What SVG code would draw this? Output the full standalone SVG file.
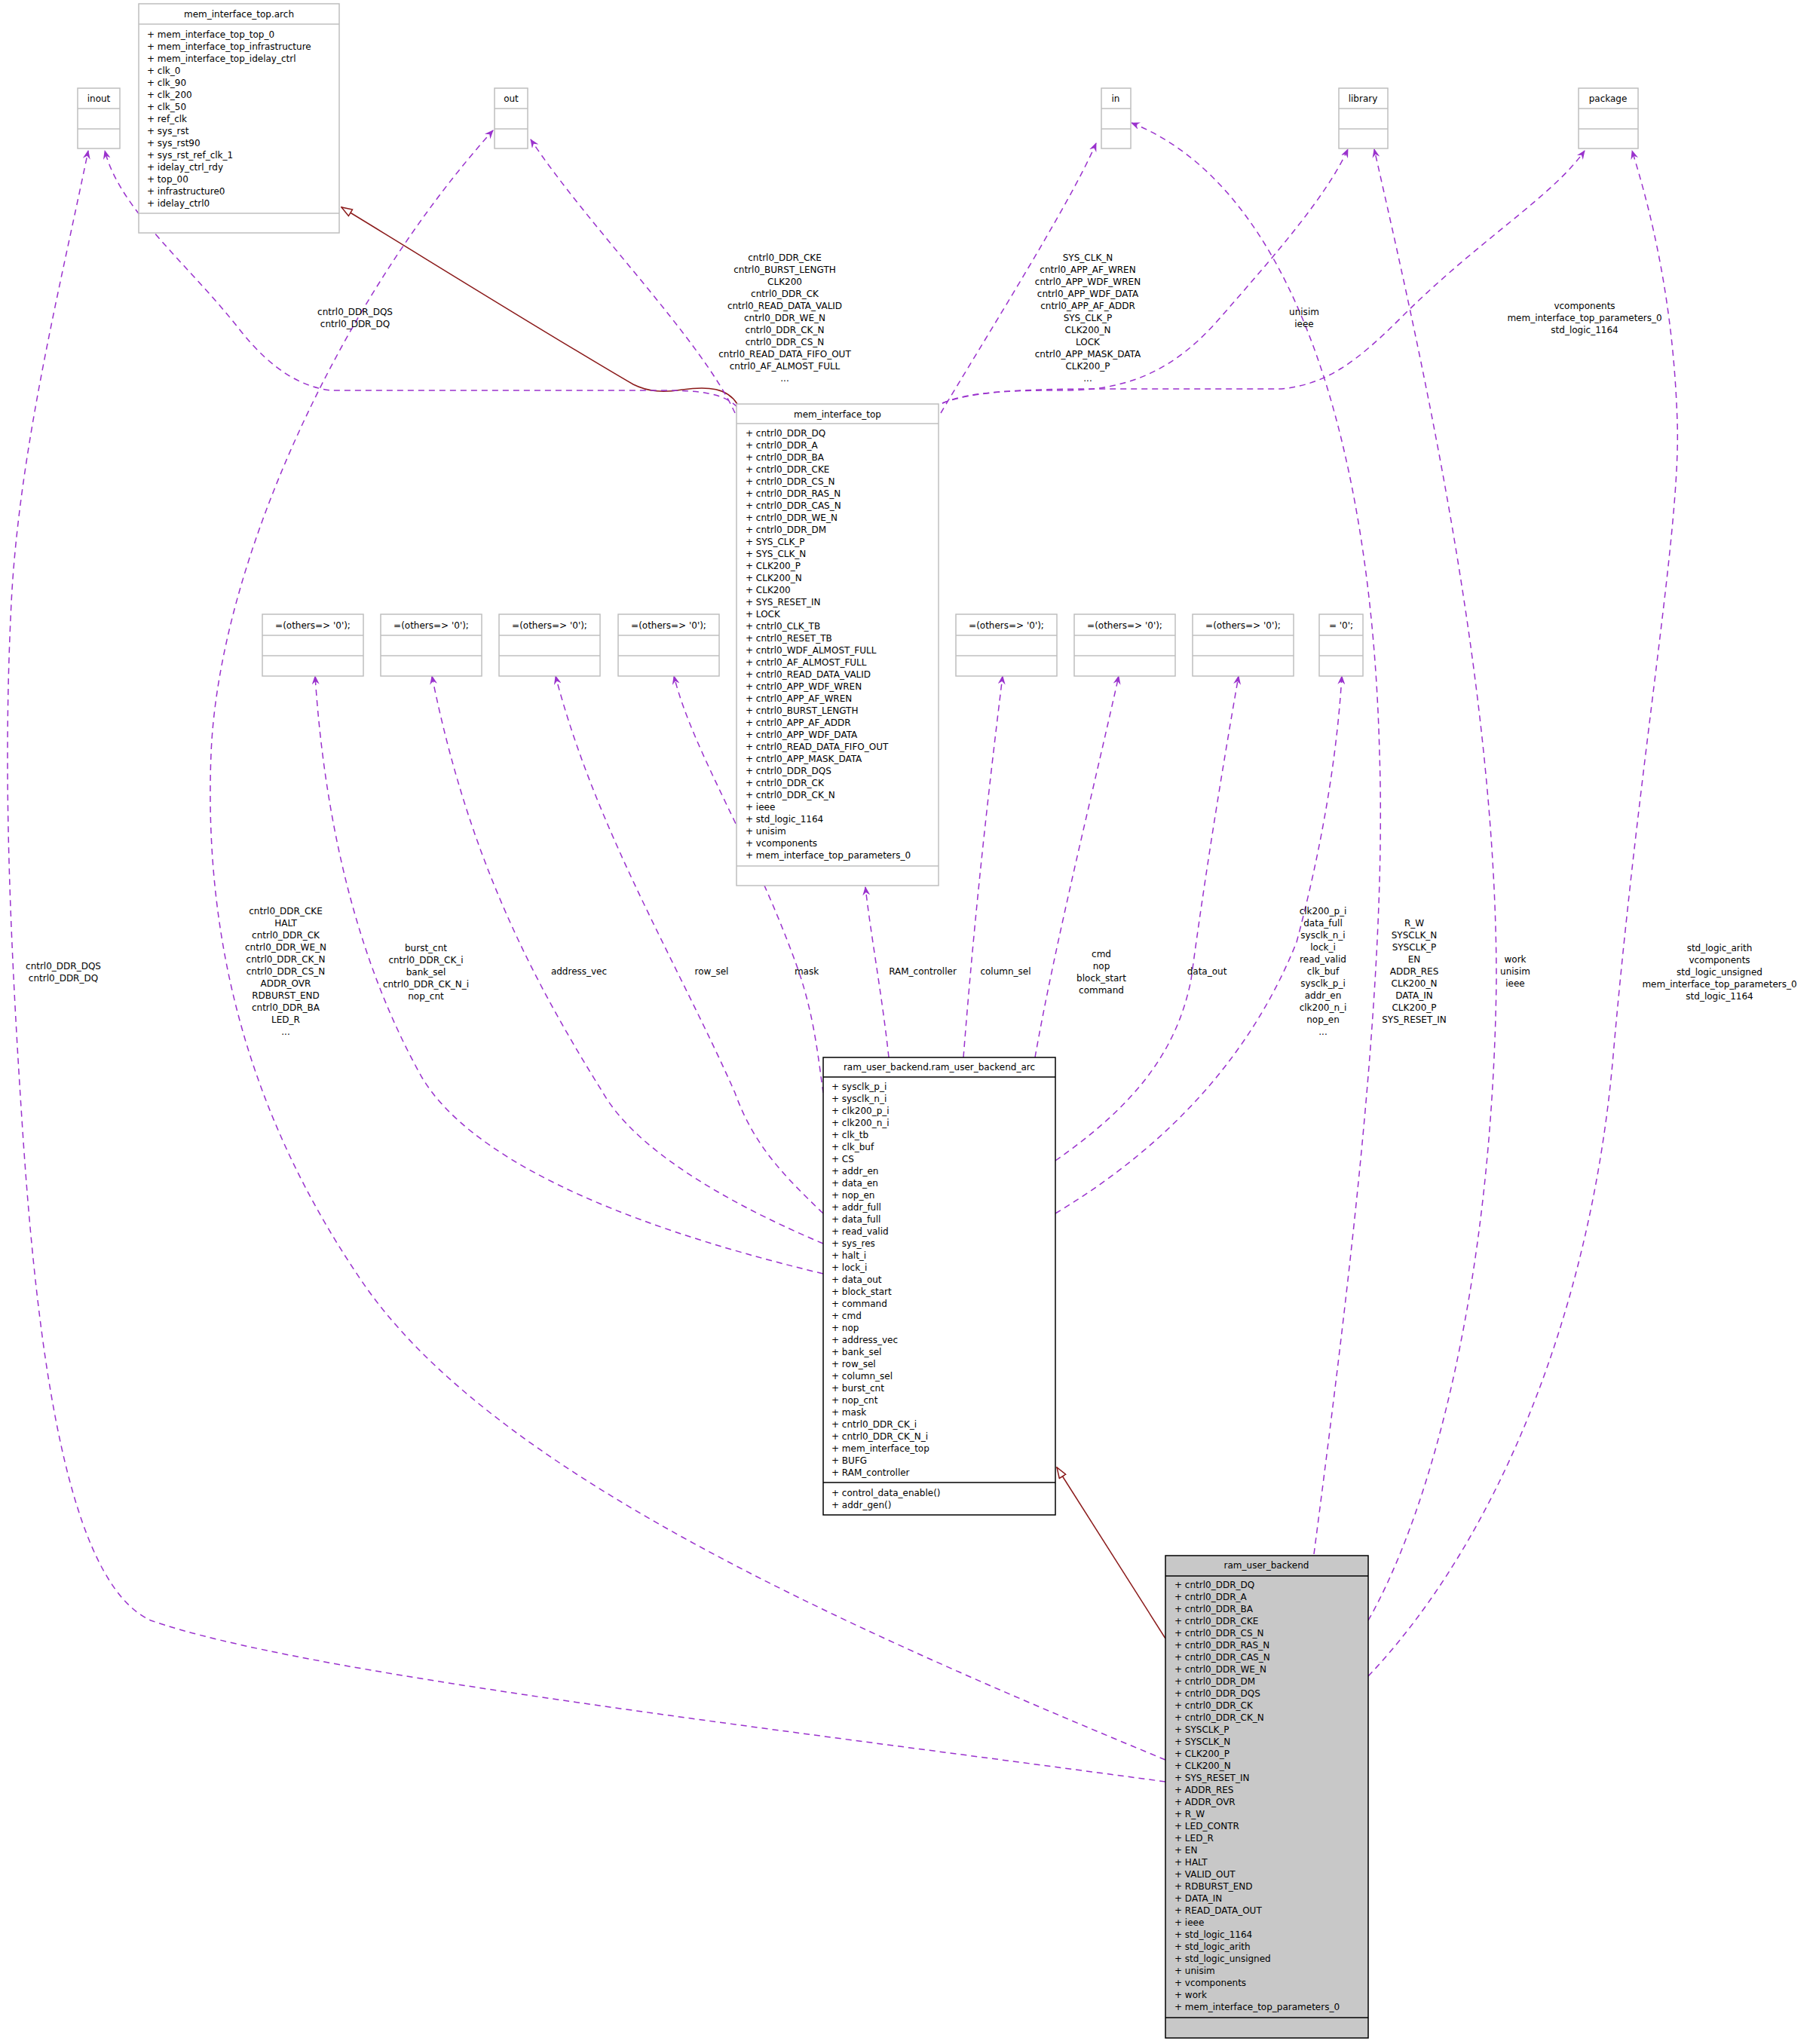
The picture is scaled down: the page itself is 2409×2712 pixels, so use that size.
<svg xmlns="http://www.w3.org/2000/svg" width="2409" height="2712" viewBox="0 0 2409 2712">
<style>
text{font-family:"DejaVu Sans","Liberation Sans",sans-serif;font-size:12px;fill:#000}
.c{text-anchor:middle}
.lb{fill:#fff;stroke:#bfbfbf;stroke-width:1.5}
.db{fill:#fff;stroke:#000;stroke-width:1.5}
.gb{fill:#c8c8c8;stroke:#000;stroke-width:1.5}
.ll{stroke:#bfbfbf;stroke-width:1.5}
.dl{stroke:#000;stroke-width:1.5}
.u{fill:none;stroke:#9a32cd;stroke-width:1.5;stroke-dasharray:8,6;marker-end:url(#v)}
.i{fill:none;stroke:#8b1a1a;stroke-width:1.5;marker-end:url(#t)}
</style>
<defs>
<marker id="v" viewBox="0 0 12 10" refX="11" refY="5" markerWidth="12" markerHeight="10" markerUnits="userSpaceOnUse" orient="auto"><path d="M0,0 L12,5 L0,10 L4,5 z" fill="#9a32cd"/></marker>
<marker id="t" viewBox="0 0 16 12" refX="15" refY="6" markerWidth="16" markerHeight="12" markerUnits="userSpaceOnUse" orient="auto"><path d="M1,1 L15,6 L1,11 z" fill="#fff" stroke="#8b1a1a" stroke-width="1.5"/></marker>
</defs>
<rect width="2409" height="2712" fill="#fff"/>

<g id="edges">
<path class="i" d="M978,536 C965,515 940,512 905,517 C880,521 860,520 840,510 C720,440 560,340 453,275"/>
<path class="u" d="M978,540 C960,522 930,518 880,518 L440,518 C400,514 360,490 320,440 C250,350 160,280 139,200"/>
<path class="u" d="M975,548 C930,450 780,300 704,185"/>
<path class="u" d="M1248,548 C1300,460 1420,270 1454,190"/>
<path class="u" d="M1250,535 C1290,518 1350,518 1420,518 C1500,516 1560,490 1620,420 C1690,340 1760,260 1788,198"/>
<path class="u" d="M1250,535 C1300,515 1400,516 1500,516 L1700,516 C1760,510 1800,480 1860,420 C1960,320 2060,260 2102,200"/>
<path class="u" d="M1743,2062 C1790,1700 1840,1300 1830,1000 C1820,600 1720,250 1501,163"/>
<path class="u" d="M1815,2150 C1900,2000 1980,1700 1985,1300 C1985,900 1880,450 1823,198"/>
<path class="u" d="M1815,2224 C1980,2050 2110,1750 2140,1400 C2175,1000 2230,700 2225,560 C2220,400 2190,280 2165,200"/>
<path class="u" d="M1546,2364 C1000,2290 400,2220 200,2150 C90,2100 50,1800 30,1500 C10,1200 5,1000 15,800 C25,600 80,380 117,200"/>
<path class="u" d="M1546,2335 C1100,2150 650,1950 480,1700 C330,1480 270,1250 280,1000 C290,750 450,400 654,173"/>
<path class="u" d="M1092,1690 C800,1620 620,1530 560,1430 C470,1270 430,1080 418,897"/>
<path class="u" d="M1092,1650 C950,1590 840,1520 800,1450 C700,1290 620,1130 573,897"/>
<path class="u" d="M1092,1610 C1040,1560 1000,1520 975,1450 C900,1280 790,1100 737,897"/>
<path class="u" d="M1092,1450 C1085,1400 1080,1350 1060,1290 C1000,1120 920,1000 894,897"/>
<path class="u" d="M1179,1403 C1170,1320 1155,1240 1148,1177"/>
<path class="u" d="M1278,1403 C1290,1250 1305,1100 1330,897"/>
<path class="u" d="M1373,1403 C1400,1250 1450,1050 1484,897"/>
<path class="u" d="M1400,1540 C1500,1470 1560,1400 1580,1300 C1600,1150 1625,1000 1643,897"/>
<path class="u" d="M1400,1610 C1550,1520 1660,1400 1720,1250 C1760,1100 1775,980 1780,897"/>
<path class="i" d="M1546,2174 L1402,1947"/>

<text class="c" x="471" y="418">cntrl0_DDR_DQS</text>
<text class="c" x="471" y="434">cntrl0_DDR_DQ</text>
<text class="c" x="1041" y="346"><tspan x="1041">cntrl0_DDR_CKE</tspan><tspan x="1041" dy="16">cntrl0_BURST_LENGTH</tspan><tspan x="1041" dy="16">CLK200</tspan><tspan x="1041" dy="16">cntrl0_DDR_CK</tspan><tspan x="1041" dy="16">cntrl0_READ_DATA_VALID</tspan><tspan x="1041" dy="16">cntrl0_DDR_WE_N</tspan><tspan x="1041" dy="16">cntrl0_DDR_CK_N</tspan><tspan x="1041" dy="16">cntrl0_DDR_CS_N</tspan><tspan x="1041" dy="16">cntrl0_READ_DATA_FIFO_OUT</tspan><tspan x="1041" dy="16">cntrl0_AF_ALMOST_FULL</tspan><tspan x="1041" dy="16">...</tspan></text>
<text class="c" x="1443" y="346"><tspan x="1443">SYS_CLK_N</tspan><tspan x="1443" dy="16">cntrl0_APP_AF_WREN</tspan><tspan x="1443" dy="16">cntrl0_APP_WDF_WREN</tspan><tspan x="1443" dy="16">cntrl0_APP_WDF_DATA</tspan><tspan x="1443" dy="16">cntrl0_APP_AF_ADDR</tspan><tspan x="1443" dy="16">SYS_CLK_P</tspan><tspan x="1443" dy="16">CLK200_N</tspan><tspan x="1443" dy="16">LOCK</tspan><tspan x="1443" dy="16">cntrl0_APP_MASK_DATA</tspan><tspan x="1443" dy="16">CLK200_P</tspan><tspan x="1443" dy="16">...</tspan></text>
<text class="c" x="1730" y="418"><tspan x="1730">unisim</tspan><tspan x="1730" dy="16">ieee</tspan></text>
<text class="c" x="2102" y="410"><tspan x="2102">vcomponents</tspan><tspan x="2102" dy="16">mem_interface_top_parameters_0</tspan><tspan x="2102" dy="16">std_logic_1164</tspan></text>
<text class="c" x="84" y="1286"><tspan x="84">cntrl0_DDR_DQS</tspan><tspan x="84" dy="16">cntrl0_DDR_DQ</tspan></text>
<text class="c" x="379" y="1213"><tspan x="379">cntrl0_DDR_CKE</tspan><tspan x="379" dy="16">HALT</tspan><tspan x="379" dy="16">cntrl0_DDR_CK</tspan><tspan x="379" dy="16">cntrl0_DDR_WE_N</tspan><tspan x="379" dy="16">cntrl0_DDR_CK_N</tspan><tspan x="379" dy="16">cntrl0_DDR_CS_N</tspan><tspan x="379" dy="16">ADDR_OVR</tspan><tspan x="379" dy="16">RDBURST_END</tspan><tspan x="379" dy="16">cntrl0_DDR_BA</tspan><tspan x="379" dy="16">LED_R</tspan><tspan x="379" dy="16">...</tspan></text>
<text class="c" x="565" y="1262"><tspan x="565">burst_cnt</tspan><tspan x="565" dy="16">cntrl0_DDR_CK_i</tspan><tspan x="565" dy="16">bank_sel</tspan><tspan x="565" dy="16">cntrl0_DDR_CK_N_i</tspan><tspan x="565" dy="16">nop_cnt</tspan></text>
<text class="c" x="768" y="1293">address_vec</text>
<text class="c" x="944" y="1293">row_sel</text>
<text class="c" x="1070" y="1293">mask</text>
<text class="c" x="1224" y="1293">RAM_controller</text>
<text class="c" x="1334" y="1293">column_sel</text>
<text class="c" x="1461" y="1270"><tspan x="1461">cmd</tspan><tspan x="1461" dy="16">nop</tspan><tspan x="1461" dy="16">block_start</tspan><tspan x="1461" dy="16">command</tspan></text>
<text class="c" x="1601" y="1293">data_out</text>
<text class="c" x="1755" y="1213"><tspan x="1755">clk200_p_i</tspan><tspan x="1755" dy="16">data_full</tspan><tspan x="1755" dy="16">sysclk_n_i</tspan><tspan x="1755" dy="16">lock_i</tspan><tspan x="1755" dy="16">read_valid</tspan><tspan x="1755" dy="16">clk_buf</tspan><tspan x="1755" dy="16">sysclk_p_i</tspan><tspan x="1755" dy="16">addr_en</tspan><tspan x="1755" dy="16">clk200_n_i</tspan><tspan x="1755" dy="16">nop_en</tspan><tspan x="1755" dy="16">...</tspan></text>
<text class="c" x="1876" y="1229"><tspan x="1876">R_W</tspan><tspan x="1876" dy="16">SYSCLK_N</tspan><tspan x="1876" dy="16">SYSCLK_P</tspan><tspan x="1876" dy="16">EN</tspan><tspan x="1876" dy="16">ADDR_RES</tspan><tspan x="1876" dy="16">CLK200_N</tspan><tspan x="1876" dy="16">DATA_IN</tspan><tspan x="1876" dy="16">CLK200_P</tspan><tspan x="1876" dy="16">SYS_RESET_IN</tspan></text>
<text class="c" x="2010" y="1277"><tspan x="2010">work</tspan><tspan x="2010" dy="16">unisim</tspan><tspan x="2010" dy="16">ieee</tspan></text>
<text class="c" x="2281" y="1262"><tspan x="2281">std_logic_arith</tspan><tspan x="2281" dy="16">vcomponents</tspan><tspan x="2281" dy="16">std_logic_unsigned</tspan><tspan x="2281" dy="16">mem_interface_top_parameters_0</tspan><tspan x="2281" dy="16">std_logic_1164</tspan></text>
</g>

<g id="arch">
<rect class="lb" x="184" y="5" width="266" height="304"/>
<line class="ll" x1="184" y1="32" x2="450" y2="32"/><line class="ll" x1="184" y1="283" x2="450" y2="283"/>
<text class="c" x="317" y="23">mem_interface_top.arch</text>
<text x="195" y="50"><tspan x="195">+ mem_interface_top_top_0</tspan><tspan x="195" dy="16">+ mem_interface_top_infrastructure</tspan><tspan x="195" dy="16">+ mem_interface_top_idelay_ctrl</tspan><tspan x="195" dy="16">+ clk_0</tspan><tspan x="195" dy="16">+ clk_90</tspan><tspan x="195" dy="16">+ clk_200</tspan><tspan x="195" dy="16">+ clk_50</tspan><tspan x="195" dy="16">+ ref_clk</tspan><tspan x="195" dy="16">+ sys_rst</tspan><tspan x="195" dy="16">+ sys_rst90</tspan><tspan x="195" dy="16">+ sys_rst_ref_clk_1</tspan><tspan x="195" dy="16">+ idelay_ctrl_rdy</tspan><tspan x="195" dy="16">+ top_00</tspan><tspan x="195" dy="16">+ infrastructure0</tspan><tspan x="195" dy="16">+ idelay_ctrl0</tspan></text>
</g>
<g id="inout"><rect class="lb" x="103" y="117" width="56" height="80"/><line class="ll" x1="103" y1="144" x2="159" y2="144"/><line class="ll" x1="103" y1="171" x2="159" y2="171"/><text class="c" x="131" y="135">inout</text></g>
<g id="out"><rect class="lb" x="656" y="117" width="44" height="80"/><line class="ll" x1="656" y1="144" x2="700" y2="144"/><line class="ll" x1="656" y1="171" x2="700" y2="171"/><text class="c" x="678" y="135">out</text></g>
<g id="in"><rect class="lb" x="1461" y="117" width="39" height="80"/><line class="ll" x1="1461" y1="144" x2="1500" y2="144"/><line class="ll" x1="1461" y1="171" x2="1500" y2="171"/><text class="c" x="1480" y="135">in</text></g>
<g id="library"><rect class="lb" x="1776" y="117" width="65" height="80"/><line class="ll" x1="1776" y1="144" x2="1841" y2="144"/><line class="ll" x1="1776" y1="171" x2="1841" y2="171"/><text class="c" x="1808" y="135">library</text></g>
<g id="package"><rect class="lb" x="2094" y="117" width="79" height="80"/><line class="ll" x1="2094" y1="144" x2="2173" y2="144"/><line class="ll" x1="2094" y1="171" x2="2173" y2="171"/><text class="c" x="2133" y="135">package</text></g>

<g id="o1"><rect class="lb" x="348" y="815" width="134" height="82"/><line class="ll" x1="348" y1="843" x2="482" y2="843"/><line class="ll" x1="348" y1="870" x2="482" y2="870"/><text class="c" x="415" y="834">=(others=&gt; '0');</text></g>
<g id="o2"><rect class="lb" x="505" y="815" width="134" height="82"/><line class="ll" x1="505" y1="843" x2="639" y2="843"/><line class="ll" x1="505" y1="870" x2="639" y2="870"/><text class="c" x="572" y="834">=(others=&gt; '0');</text></g>
<g id="o3"><rect class="lb" x="662" y="815" width="134" height="82"/><line class="ll" x1="662" y1="843" x2="796" y2="843"/><line class="ll" x1="662" y1="870" x2="796" y2="870"/><text class="c" x="729" y="834">=(others=&gt; '0');</text></g>
<g id="o4"><rect class="lb" x="820" y="815" width="134" height="82"/><line class="ll" x1="820" y1="843" x2="954" y2="843"/><line class="ll" x1="820" y1="870" x2="954" y2="870"/><text class="c" x="887" y="834">=(others=&gt; '0');</text></g>
<g id="o5"><rect class="lb" x="1268" y="815" width="134" height="82"/><line class="ll" x1="1268" y1="843" x2="1402" y2="843"/><line class="ll" x1="1268" y1="870" x2="1402" y2="870"/><text class="c" x="1335" y="834">=(others=&gt; '0');</text></g>
<g id="o6"><rect class="lb" x="1425" y="815" width="134" height="82"/><line class="ll" x1="1425" y1="843" x2="1559" y2="843"/><line class="ll" x1="1425" y1="870" x2="1559" y2="870"/><text class="c" x="1492" y="834">=(others=&gt; '0');</text></g>
<g id="o7"><rect class="lb" x="1582" y="815" width="134" height="82"/><line class="ll" x1="1582" y1="843" x2="1716" y2="843"/><line class="ll" x1="1582" y1="870" x2="1716" y2="870"/><text class="c" x="1649" y="834">=(others=&gt; '0');</text></g>
<g id="o8"><rect class="lb" x="1750" y="815" width="58" height="82"/><line class="ll" x1="1750" y1="843" x2="1808" y2="843"/><line class="ll" x1="1750" y1="870" x2="1808" y2="870"/><text class="c" x="1779" y="834">= '0';</text></g>

<g id="mem_interface_top">
<rect class="lb" x="977" y="536" width="268" height="639"/>
<line class="ll" x1="977" y1="562" x2="1245" y2="562"/><line class="ll" x1="977" y1="1149" x2="1245" y2="1149"/>
<text class="c" x="1111" y="554">mem_interface_top</text>
<text x="989" y="579"><tspan x="989">+ cntrl0_DDR_DQ</tspan><tspan x="989" dy="16">+ cntrl0_DDR_A</tspan><tspan x="989" dy="16">+ cntrl0_DDR_BA</tspan><tspan x="989" dy="16">+ cntrl0_DDR_CKE</tspan><tspan x="989" dy="16">+ cntrl0_DDR_CS_N</tspan><tspan x="989" dy="16">+ cntrl0_DDR_RAS_N</tspan><tspan x="989" dy="16">+ cntrl0_DDR_CAS_N</tspan><tspan x="989" dy="16">+ cntrl0_DDR_WE_N</tspan><tspan x="989" dy="16">+ cntrl0_DDR_DM</tspan><tspan x="989" dy="16">+ SYS_CLK_P</tspan><tspan x="989" dy="16">+ SYS_CLK_N</tspan><tspan x="989" dy="16">+ CLK200_P</tspan><tspan x="989" dy="16">+ CLK200_N</tspan><tspan x="989" dy="16">+ CLK200</tspan><tspan x="989" dy="16">+ SYS_RESET_IN</tspan><tspan x="989" dy="16">+ LOCK</tspan><tspan x="989" dy="16">+ cntrl0_CLK_TB</tspan><tspan x="989" dy="16">+ cntrl0_RESET_TB</tspan><tspan x="989" dy="16">+ cntrl0_WDF_ALMOST_FULL</tspan><tspan x="989" dy="16">+ cntrl0_AF_ALMOST_FULL</tspan><tspan x="989" dy="16">+ cntrl0_READ_DATA_VALID</tspan><tspan x="989" dy="16">+ cntrl0_APP_WDF_WREN</tspan><tspan x="989" dy="16">+ cntrl0_APP_AF_WREN</tspan><tspan x="989" dy="16">+ cntrl0_BURST_LENGTH</tspan><tspan x="989" dy="16">+ cntrl0_APP_AF_ADDR</tspan><tspan x="989" dy="16">+ cntrl0_APP_WDF_DATA</tspan><tspan x="989" dy="16">+ cntrl0_READ_DATA_FIFO_OUT</tspan><tspan x="989" dy="16">+ cntrl0_APP_MASK_DATA</tspan><tspan x="989" dy="16">+ cntrl0_DDR_DQS</tspan><tspan x="989" dy="16">+ cntrl0_DDR_CK</tspan><tspan x="989" dy="16">+ cntrl0_DDR_CK_N</tspan><tspan x="989" dy="16">+ ieee</tspan><tspan x="989" dy="16">+ std_logic_1164</tspan><tspan x="989" dy="16">+ unisim</tspan><tspan x="989" dy="16">+ vcomponents</tspan><tspan x="989" dy="16">+ mem_interface_top_parameters_0</tspan></text>
</g>

<g id="arc">
<rect class="db" x="1092" y="1403" width="308" height="607"/>
<line class="dl" x1="1092" y1="1429" x2="1400" y2="1429"/><line class="dl" x1="1092" y1="1967" x2="1400" y2="1967"/>
<text class="c" x="1246" y="1420">ram_user_backend.ram_user_backend_arc</text>
<text x="1103" y="1446"><tspan x="1103">+ sysclk_p_i</tspan><tspan x="1103" dy="16">+ sysclk_n_i</tspan><tspan x="1103" dy="16">+ clk200_p_i</tspan><tspan x="1103" dy="16">+ clk200_n_i</tspan><tspan x="1103" dy="16">+ clk_tb</tspan><tspan x="1103" dy="16">+ clk_buf</tspan><tspan x="1103" dy="16">+ CS</tspan><tspan x="1103" dy="16">+ addr_en</tspan><tspan x="1103" dy="16">+ data_en</tspan><tspan x="1103" dy="16">+ nop_en</tspan><tspan x="1103" dy="16">+ addr_full</tspan><tspan x="1103" dy="16">+ data_full</tspan><tspan x="1103" dy="16">+ read_valid</tspan><tspan x="1103" dy="16">+ sys_res</tspan><tspan x="1103" dy="16">+ halt_i</tspan><tspan x="1103" dy="16">+ lock_i</tspan><tspan x="1103" dy="16">+ data_out</tspan><tspan x="1103" dy="16">+ block_start</tspan><tspan x="1103" dy="16">+ command</tspan><tspan x="1103" dy="16">+ cmd</tspan><tspan x="1103" dy="16">+ nop</tspan><tspan x="1103" dy="16">+ address_vec</tspan><tspan x="1103" dy="16">+ bank_sel</tspan><tspan x="1103" dy="16">+ row_sel</tspan><tspan x="1103" dy="16">+ column_sel</tspan><tspan x="1103" dy="16">+ burst_cnt</tspan><tspan x="1103" dy="16">+ nop_cnt</tspan><tspan x="1103" dy="16">+ mask</tspan><tspan x="1103" dy="16">+ cntrl0_DDR_CK_i</tspan><tspan x="1103" dy="16">+ cntrl0_DDR_CK_N_i</tspan><tspan x="1103" dy="16">+ mem_interface_top</tspan><tspan x="1103" dy="16">+ BUFG</tspan><tspan x="1103" dy="16">+ RAM_controller</tspan></text>
<text x="1103" y="1985"><tspan x="1103">+ control_data_enable()</tspan><tspan x="1103" dy="16">+ addr_gen()</tspan></text>
</g>

<g id="ram_user_backend">
<rect class="gb" x="1546" y="2064" width="269" height="640"/>
<line class="dl" x1="1546" y1="2091" x2="1815" y2="2091"/><line class="dl" x1="1546" y1="2677" x2="1815" y2="2677"/>
<text class="c" x="1680" y="2081">ram_user_backend</text>
<text x="1558" y="2107"><tspan x="1558">+ cntrl0_DDR_DQ</tspan><tspan x="1558" dy="16">+ cntrl0_DDR_A</tspan><tspan x="1558" dy="16">+ cntrl0_DDR_BA</tspan><tspan x="1558" dy="16">+ cntrl0_DDR_CKE</tspan><tspan x="1558" dy="16">+ cntrl0_DDR_CS_N</tspan><tspan x="1558" dy="16">+ cntrl0_DDR_RAS_N</tspan><tspan x="1558" dy="16">+ cntrl0_DDR_CAS_N</tspan><tspan x="1558" dy="16">+ cntrl0_DDR_WE_N</tspan><tspan x="1558" dy="16">+ cntrl0_DDR_DM</tspan><tspan x="1558" dy="16">+ cntrl0_DDR_DQS</tspan><tspan x="1558" dy="16">+ cntrl0_DDR_CK</tspan><tspan x="1558" dy="16">+ cntrl0_DDR_CK_N</tspan><tspan x="1558" dy="16">+ SYSCLK_P</tspan><tspan x="1558" dy="16">+ SYSCLK_N</tspan><tspan x="1558" dy="16">+ CLK200_P</tspan><tspan x="1558" dy="16">+ CLK200_N</tspan><tspan x="1558" dy="16">+ SYS_RESET_IN</tspan><tspan x="1558" dy="16">+ ADDR_RES</tspan><tspan x="1558" dy="16">+ ADDR_OVR</tspan><tspan x="1558" dy="16">+ R_W</tspan><tspan x="1558" dy="16">+ LED_CONTR</tspan><tspan x="1558" dy="16">+ LED_R</tspan><tspan x="1558" dy="16">+ EN</tspan><tspan x="1558" dy="16">+ HALT</tspan><tspan x="1558" dy="16">+ VALID_OUT</tspan><tspan x="1558" dy="16">+ RDBURST_END</tspan><tspan x="1558" dy="16">+ DATA_IN</tspan><tspan x="1558" dy="16">+ READ_DATA_OUT</tspan><tspan x="1558" dy="16">+ ieee</tspan><tspan x="1558" dy="16">+ std_logic_1164</tspan><tspan x="1558" dy="16">+ std_logic_arith</tspan><tspan x="1558" dy="16">+ std_logic_unsigned</tspan><tspan x="1558" dy="16">+ unisim</tspan><tspan x="1558" dy="16">+ vcomponents</tspan><tspan x="1558" dy="16">+ work</tspan><tspan x="1558" dy="16">+ mem_interface_top_parameters_0</tspan></text>
</g>
</svg>
